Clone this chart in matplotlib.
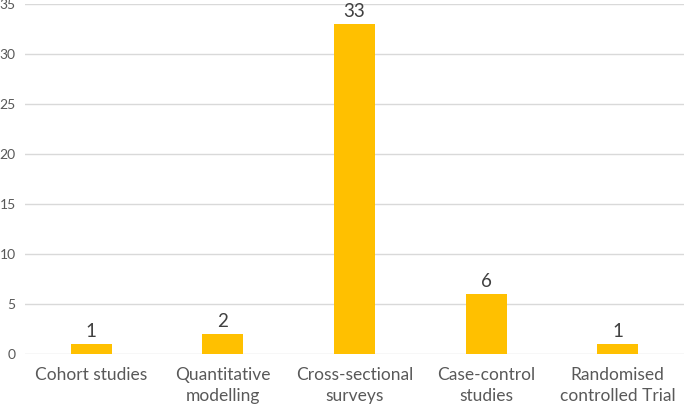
import numpy as np
import matplotlib.pyplot as plt

# data
categories = ['Cohort studies', 'Quantitative\nmodelling', 'Cross-sectional\nsurveys',
              'Case-control\nstudies', 'Randomised\ncontrolled Trial']
counts = [1, 2, 33, 6, 1]
y_ticks = [0, 5, 10, 15, 20, 25, 30, 35]

plt.rcParams['font.family'] = ['Lato', 'DejaVu Sans']

fig = plt.figure(figsize=(6.85, 4.08), dpi=100)
ax = fig.add_axes([0.037, 0.132, 0.961, 0.858])

x = np.arange(len(categories))
bars = ax.bar(x, counts, width=0.31, color='#FFC000', zorder=3)

for b, v in zip(bars, counts):
    ax.text(b.get_x() + b.get_width() / 2, v + 0.45, str(v),
            ha='center', va='bottom', fontsize=13.5, color='#404040')

ax.set_xlim(-0.5, len(categories) - 0.5)
ax.set_ylim(0, 35)
ax.set_yticks(y_ticks)
ax.set_xticks(x)
ax.set_xticklabels(categories, fontsize=12.5, color='#595959', linespacing=1.4)
ax.tick_params(axis='y', labelsize=10, colors='#595959', length=0, pad=7)
ax.tick_params(axis='x', length=0, pad=9)

ax.grid(axis='y', color='#D9D9D9', linewidth=1, zorder=0)
for s in ax.spines.values():
    s.set_visible(False)

fig.savefig('out.png', dpi=100)
